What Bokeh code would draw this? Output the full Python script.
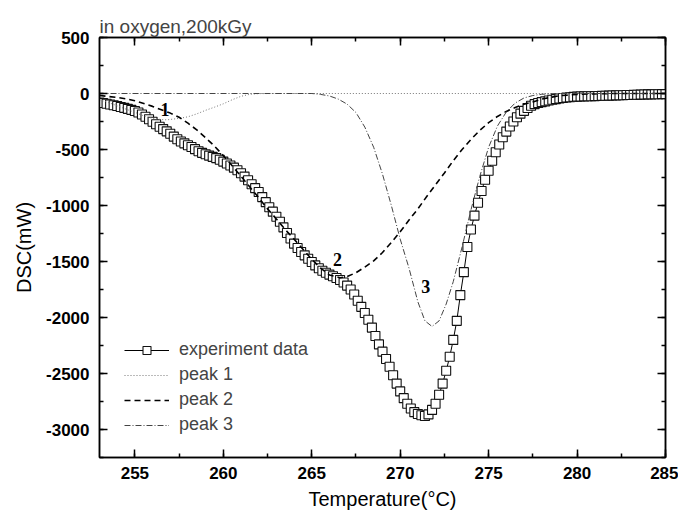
from bokeh.plotting import figure
from bokeh.models import (Range1d, LinearAxis, SingleIntervalTicker, Legend, LegendItem,
                          PrintfTickFormatter, CustomJSTickFormatter)
from bokeh.core.properties import value
from bokeh.embed import file_html
from bokeh.resources import INLINE

# ---------------- data ----------------
exp_T = [
    253.0, 253.2, 253.4, 253.6, 253.8,
    254.0, 254.2, 254.4, 254.6, 254.8,
    255.0, 255.2, 255.4, 255.6, 255.8,
    256.0, 256.2, 256.4, 256.6, 256.8,
    257.0, 257.2, 257.4, 257.6, 257.8,
    258.0, 258.2, 258.4, 258.6, 258.8,
    259.0, 259.2, 259.4, 259.6, 259.8,
    260.0, 260.2, 260.4, 260.6, 260.8,
    261.0, 261.2, 261.4, 261.6, 261.8,
    262.0, 262.2, 262.4, 262.6, 262.8,
    263.0, 263.2, 263.4, 263.6, 263.8,
    264.0, 264.2, 264.4, 264.6, 264.8,
    265.0, 265.2, 265.4, 265.6, 265.8,
    266.0, 266.2, 266.4, 266.6, 266.8,
    267.0, 267.2, 267.4, 267.6, 267.8,
    268.0, 268.2, 268.4, 268.6, 268.8,
    269.0, 269.2, 269.4, 269.6, 269.8,
    270.0, 270.2, 270.4, 270.6, 270.8,
    271.0, 271.2, 271.4, 271.6, 271.8,
    272.0, 272.2, 272.4, 272.6, 272.8,
    273.0, 273.2, 273.4, 273.6, 273.8,
    274.0, 274.2, 274.4, 274.6, 274.8,
    275.0, 275.2, 275.4, 275.6, 275.8,
    276.0, 276.2, 276.4, 276.6, 276.8,
    277.0, 277.2, 277.4, 277.6, 277.8,
    278.0, 278.2, 278.4, 278.6, 278.8,
    279.0, 279.2, 279.4, 279.6, 279.8,
    280.0, 280.2, 280.4, 280.6, 280.8,
    281.0, 281.2, 281.4, 281.6, 281.8,
    282.0, 282.2, 282.4, 282.6, 282.8,
    283.0, 283.2, 283.4, 283.6, 283.8,
    284.0, 284.2, 284.4, 284.6, 284.8,
    285.0,
]
exp_dsc = [
    -80, -85, -92, -98, -105,
    -112, -120, -128, -137, -146,
    -156, -170, -188, -208, -230,
    -252, -275, -297, -318, -338,
    -360, -385, -408, -428, -445,
    -462, -478, -497, -515, -530,
    -543, -555, -566, -577, -592,
    -608, -625, -643, -662, -685,
    -712, -742, -775, -810, -845,
    -880, -925, -970, -1015, -1055,
    -1100, -1145, -1195, -1245, -1295,
    -1340, -1380, -1415, -1445, -1475,
    -1505, -1535, -1560, -1582, -1600,
    -1617, -1632, -1647, -1665, -1688,
    -1715, -1750, -1795, -1850, -1905,
    -1960, -2020, -2090, -2165, -2240,
    -2305, -2370, -2440, -2515, -2590,
    -2660, -2720, -2770, -2812, -2845,
    -2862, -2873, -2880, -2865, -2825,
    -2770, -2690, -2590, -2475, -2350,
    -2200, -2030, -1800, -1595, -1370,
    -1214, -1090, -975, -870, -770,
    -690, -600, -525, -455, -390,
    -340, -295, -250, -212, -180,
    -155, -130, -110, -95, -85,
    -77, -70, -63, -56, -50,
    -45, -40, -36, -33, -30,
    -28, -27, -26, -25, -24,
    -23, -22, -21, -20, -19,
    -18, -17, -16, -15, -14,
    -13, -12, -11, -10, -9,
    -8, -8, -7, -7, -6,
    -6,
]

peak1_T = [253.0, 253.5, 254.0, 254.5, 255.0, 255.5, 256.0, 256.5, 256.8, 257.2,
           257.6, 258.0, 258.5, 259.0, 259.5, 260.0, 260.5, 261.0, 261.5, 262.0,
           263.0, 270.0, 285.0]
peak1_dsc = [-55, -80, -110, -140, -168, -200, -222, -233, -235, -228,
             -220, -208, -182, -150, -122, -92, -56, -25, -7, -1,
             0, 0, 0]

peak2_T = [253.0, 254.0, 254.5, 255.0, 256.0, 257.0, 257.5, 258.0, 258.5, 259.0,
           259.5, 260.0, 260.5, 261.0, 261.5, 262.0, 262.5, 263.0, 263.5, 264.0,
           264.5, 265.0, 265.5, 266.0, 266.6, 267.0, 267.5, 268.0, 268.5, 269.0,
           269.5, 270.0, 270.5, 271.0, 271.5, 272.0, 272.5, 273.0, 273.5, 274.0,
           274.5, 275.0, 275.5, 276.0, 276.5, 277.0, 277.5, 278.0, 279.0, 280.0,
           281.0, 282.0, 285.0]
peak2_dsc = [-18, -35, -48, -65, -115, -175, -212, -265, -325, -395,
             -470, -555, -645, -740, -835, -930, -1030, -1120, -1215, -1300,
             -1390, -1480, -1560, -1620, -1645, -1635, -1600, -1550, -1495, -1420,
             -1330, -1235, -1130, -1030, -920, -815, -710, -600, -500, -410,
             -330, -260, -205, -160, -125, -95, -75, -50, -20, -8,
             -3, 0, 0]

peak3_T = [253.0, 265.0, 265.5, 266.0, 266.5, 267.0, 267.5, 268.0, 268.5, 269.0,
           269.5, 270.0, 270.5, 271.0, 271.4, 271.8, 272.2, 272.6, 273.0, 273.5,
           274.0, 274.5, 275.0, 275.5, 276.0, 276.5, 277.0, 277.5, 278.0, 278.5,
           279.0, 285.0]
peak3_dsc = [0, 0, -8, -22, -50, -95, -170, -300, -480, -720,
             -1000, -1300, -1560, -1860, -2030, -2080, -2030, -1880, -1680, -1370,
             -1040, -740, -480, -290, -165, -85, -40, -18, -7, -2,
             0, 0]

label_T = [256.7, 266.45, 271.45]
label_dsc = [-143, -1482, -1723]
label_txt = ["1", "2", "3"]

x_ticks_interval = 5
y_ticks_interval = 500

# ---------------- figure ----------------
p = figure(width=678, height=512, x_range=Range1d(253, 285), y_range=Range1d(-3250, 500),
           output_backend="svg", toolbar_location=None,
           min_border_left=99, min_border_right=13, min_border_top=37, min_border_bottom=54)
p.grid.visible = False
p.outline_line_color = "black"
p.outline_line_width = 1.5
p.background_fill_color = "white"
p.border_fill_color = "white"

p.title.text = "in oxygen,200kGy"
p.title.text_font = "Liberation Sans"
p.title.text_font_size = "19px"
p.title.text_font_style = "normal"
p.title.align = "left"
p.title.offset = 0
p.title.standoff = 2

def style_axis(ax, interval, show_labels=True):
    ax.ticker = SingleIntervalTicker(interval=interval, num_minor_ticks=2)
    ax.axis_line_width = 1.5
    ax.major_tick_line_width = 1.5
    ax.minor_tick_line_width = 1.5
    ax.major_tick_in = 8
    ax.major_tick_out = 0
    ax.minor_tick_in = 4
    ax.minor_tick_out = 0
    ax.major_label_text_font = "Liberation Sans"
    ax.major_label_text_font_style = "bold"
    ax.major_label_text_font_size = "17px"
    ax.major_label_text_color = "black"
    if show_labels:
        ax.formatter = PrintfTickFormatter(format="%d")
    else:
        ax.formatter = CustomJSTickFormatter(code="return ''")
        ax.major_label_standoff = 0

xa = p.xaxis[0]
ya = p.yaxis[0]
style_axis(xa, x_ticks_interval)
style_axis(ya, y_ticks_interval)
xa.major_label_standoff = 9
ya.major_label_standoff = 10
xa.axis_label = "Temperature(°C)"
ya.axis_label = "DSC(mW)"
for ax in (xa, ya):
    ax.axis_label_text_font = "Liberation Sans"
    ax.axis_label_text_font_size = "20px"
    ax.axis_label_text_font_style = "normal"
    ax.axis_label_text_color = "black"
xa.axis_label_standoff = 6
ya.axis_label_standoff = 8

top = LinearAxis()
style_axis(top, x_ticks_interval, show_labels=False)
p.add_layout(top, "above")
right = LinearAxis()
style_axis(right, y_ticks_interval, show_labels=False)
p.add_layout(right, "right")

# ---------------- glyphs ----------------
exp_line = p.line(exp_T, exp_dsc, line_color="black", line_width=1)
exp_sq = p.scatter(exp_T, exp_dsc, marker="square", size=9, line_color="#111111",
                   fill_color="white", line_width=1.1)
pk1 = p.line(peak1_T, peak1_dsc, line_color="#777777", line_width=1, line_dash="1 2")
pk2 = p.line(peak2_T, peak2_dsc, line_color="black", line_width=1.6, line_dash="6 4")
pk3 = p.line(peak3_T, peak3_dsc, line_color="#444444", line_width=1, line_dash="6 2 1 2")

p.text(x=label_T, y=label_dsc, text=label_txt, text_font=value("Liberation Serif"),
       text_font_size="18px", text_font_style="bold", text_align="center",
       text_baseline="middle", text_color="black")

legend = Legend(items=[
    LegendItem(label="experiment data", renderers=[exp_line, exp_sq]),
    LegendItem(label="peak 1", renderers=[pk1]),
    LegendItem(label="peak 2", renderers=[pk2]),
    LegendItem(label="peak 3", renderers=[pk3]),
], location=(25, 22), border_line_color=None, background_fill_alpha=0,
    glyph_width=45, glyph_height=20, label_height=20, label_standoff=10,
    spacing=4, padding=0, margin=0,
    label_text_font="Liberation Sans", label_text_font_size="18px")
p.add_layout(legend)

open("out.html", "w").write(file_html(p, INLINE))
